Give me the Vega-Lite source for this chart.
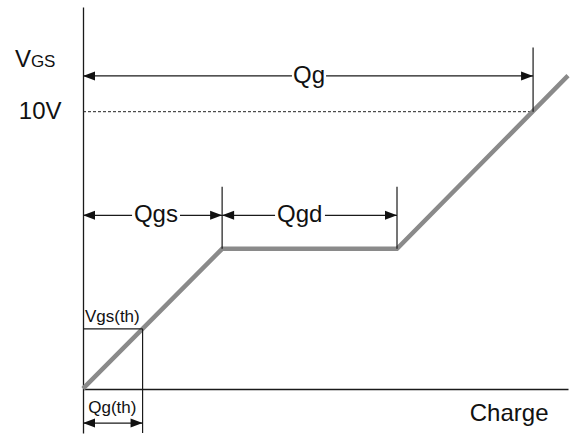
{
  "$schema": "https://vega.github.io/schema/vega-lite/v6.json",
  "width": 485,
  "height": 426,
  "autosize": {"type": "none"},
  "padding": {"left": 83, "top": 7, "right": 3, "bottom": 2},
  "background": "white",
  "config": {
    "view": {"stroke": null},
    "font": "Liberation Sans",
    "axis": {"grid": false, "domainColor": "#1a1a1a", "domainWidth": 1.3, "ticks": false}
  },
  "datasets": {
    "curve": [
      {"q": 0, "v": 0},
      {"q": 5.02, "v": 5.05},
      {"q": 11.33, "v": 5.05},
      {"q": 17.5, "v": 11.3}
    ],
    "segments": [
      {"q": 0, "q2": 7.54, "v": 11.29, "v2": 11.29},
      {"q": 8.77, "q2": 16.24, "v": 11.29, "v2": 11.29},
      {"q": 16.24, "q2": 16.24, "v": 10, "v2": 12.32},
      {"q": 0, "q2": 1.77, "v": 6.26, "v2": 6.26},
      {"q": 3.5, "q2": 5.02, "v": 6.26, "v2": 6.26},
      {"q": 5.02, "q2": 6.93, "v": 6.26, "v2": 6.26},
      {"q": 8.73, "q2": 11.33, "v": 6.26, "v2": 6.26},
      {"q": 5.02, "q2": 5.02, "v": 5.05, "v2": 7.29},
      {"q": 11.33, "q2": 11.33, "v": 5.05, "v2": 7.29},
      {"q": 0, "q2": 2.15, "v": 2.16, "v2": 2.16},
      {"q": 2.15, "q2": 2.15, "v": 2.16, "v2": -1.6},
      {"q": 0, "q2": 2.15, "v": -1.24, "v2": -1.24}
    ],
    "dashed": [
      {"q": 0, "q2": 16.24, "v": 10}
    ],
    "heads": [
      {"q": 0, "v": 11.29, "dir": "left"},
      {"q": 16.24, "v": 11.29, "dir": "right"},
      {"q": 0, "v": 6.26, "dir": "left"},
      {"q": 5.02, "v": 6.26, "dir": "right"},
      {"q": 5.02, "v": 6.26, "dir": "left"},
      {"q": 11.33, "v": 6.26, "dir": "right"},
      {"q": 0, "v": -1.24, "dir": "left"},
      {"q": 2.15, "v": -1.24, "dir": "right"}
    ],
    "labels": [
      {"q": 8.155, "v": 11.29, "text": "Qg", "kind": "bigc"},
      {"q": 2.63, "v": 6.26, "text": "Qgs", "kind": "bigc"},
      {"q": 7.82, "v": 6.26, "text": "Qgd", "kind": "bigc"},
      {"q": -2.45, "v": 11.62, "text": "V", "kind": "bigl"},
      {"q": -1.88, "v": 11.62, "text": "GS", "kind": "smalll"},
      {"q": 0.07, "v": 2.41, "text": "Vgs(th)", "kind": "smalll"},
      {"q": 1.06, "v": -0.88, "text": "Qg(th)", "kind": "smallc"}
    ]
  },
  "layer": [
    {
      "data": {"name": "dashed"},
      "mark": {"type": "rule", "color": "#222222", "strokeWidth": 1, "strokeDash": [3, 2]},
      "encoding": {
        "x": {"field": "q", "type": "quantitative", "scale": {"domain": [0, 17.5], "nice": false, "zero": false},
          "axis": {"orient": "bottom", "offset": -44, "labels": false, "title": "Charge", "titleFontSize": 24, "titleFontWeight": "normal", "titleColor": "#111111", "titleX": 465, "titleY": 31, "titleAlign": "right", "titleBaseline": "alphabetic", "titleAnchor": null}},
        "x2": {"field": "q2"},
        "y": {"field": "v", "type": "quantitative", "scale": {"domain": [-1.6, 13.78], "nice": false, "zero": false},
          "axis": {"values": [10], "labelExpr": "'10V'", "labelFontSize": 24, "labelColor": "#111111", "labelPadding": 22, "title": null}}
      }
    },
    {
      "data": {"name": "curve"},
      "mark": {"type": "line", "color": "#8a8a8a", "strokeWidth": 4.5, "strokeCap": "butt", "strokeJoin": "miter"},
      "encoding": {
        "x": {"field": "q", "type": "quantitative"},
        "y": {"field": "v", "type": "quantitative"}
      }
    },
    {
      "data": {"name": "segments"},
      "mark": {"type": "rule", "color": "#1a1a1a", "strokeWidth": 1.2},
      "encoding": {
        "x": {"field": "q", "type": "quantitative"},
        "x2": {"field": "q2"},
        "y": {"field": "v", "type": "quantitative"},
        "y2": {"field": "v2"}
      }
    },
    {
      "data": {"name": "heads"},
      "mark": {"type": "point", "filled": true, "opacity": 1, "color": "#111111", "size": 576, "strokeWidth": 0},
      "encoding": {
        "x": {"field": "q", "type": "quantitative"},
        "y": {"field": "v", "type": "quantitative"},
        "shape": {"field": "dir", "type": "nominal", "legend": null,
          "scale": {"domain": ["left", "right"], "range": ["M0,0L1,-0.38L1,0.38Z", "M0,0L-1,-0.38L-1,0.38Z"]}}
      }
    },
    {
      "data": {"name": "labels"},
      "transform": [{"filter": "datum.kind === 'bigc'"}],
      "mark": {"type": "text", "fontSize": 24, "align": "center", "baseline": "middle", "color": "#111111"},
      "encoding": {
        "x": {"field": "q", "type": "quantitative"},
        "y": {"field": "v", "type": "quantitative"},
        "text": {"field": "text"}
      }
    },
    {
      "data": {"name": "labels"},
      "transform": [{"filter": "datum.kind === 'bigl'"}],
      "mark": {"type": "text", "fontSize": 24, "align": "left", "baseline": "alphabetic", "color": "#111111"},
      "encoding": {
        "x": {"field": "q", "type": "quantitative"},
        "y": {"field": "v", "type": "quantitative"},
        "text": {"field": "text"}
      }
    },
    {
      "data": {"name": "labels"},
      "transform": [{"filter": "datum.kind === 'smalll'"}],
      "mark": {"type": "text", "fontSize": 17, "align": "left", "baseline": "alphabetic", "color": "#111111"},
      "encoding": {
        "x": {"field": "q", "type": "quantitative"},
        "y": {"field": "v", "type": "quantitative"},
        "text": {"field": "text"}
      }
    },
    {
      "data": {"name": "labels"},
      "transform": [{"filter": "datum.kind === 'smallc'"}],
      "mark": {"type": "text", "fontSize": 17, "align": "center", "baseline": "alphabetic", "color": "#111111"},
      "encoding": {
        "x": {"field": "q", "type": "quantitative"},
        "y": {"field": "v", "type": "quantitative"},
        "text": {"field": "text"}
      }
    }
  ]
}
